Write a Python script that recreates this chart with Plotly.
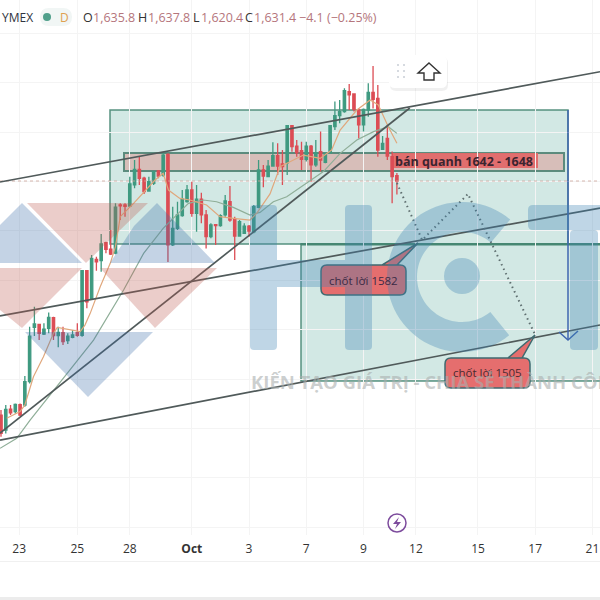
import math
import plotly.graph_objects as go

# Candle values (index 0 = leftmost visible candle)
opens = [1441.8,1429.7,1446.7,1444.6,1450.2,1450.0,1468.9,1512.9,1515.3,1507.5,1512.0,1520.7,1506.1,1508.5,1502.1,1504.8,1508.5,1506.4,1558.8,1536.3,1567.9,1566.9,1581.4,1576.3,1573.1,
         1612.0,1612.0,1611.1,1628.2,1640.8,1633.8,1623.3,1629.5,1639.5,1636.2,1653.0,1579.6,1593.0,1603.3,1614.7,1624.1,1605.2,1616.8,1603.9,1586.3,1596.0,1595.2,1603.9,1614.7,1600.3,1586.8,1589.0,1594.9,1590.3,1610.1,
         1640.3,1634.9,1643.5,1651.9,1645.2,1646.2,1676.2,1659.7,1656.0,1648.9,1659.7,1644.4,1655.2,1646.5,1654.3,1675.4,1684.3,1687.6,1703.8,1701.9,1688.9,1676.8,1688.9,1703.2,1698.4,1657.0,1666.0,1651.1,1635.8]
highs = [1445.9,1449.9,1449.9,1451.3,1451.3,1473.4,1513.4,1529.6,1515.6,1516.1,1525.0,1521.5,1513.4,1513.4,1508.0,1510.7,1516.1,1559.3,1559.3,1571.4,1570.1,1588.5,1582.2,1591.7,1613.3,
         1613.3,1613.3,1634.9,1648.4,1651.1,1634.9,1634.9,1639.0,1640.3,1653.8,1653.8,1610.6,1614.7,1624.1,1628.2,1630.8,1628.2,1621.9,1607.9,1597.1,1596.0,1604.4,1620.0,1627.3,1602.5,1599.8,1597.1,1595.8,1612.0,1648.4,
         1644.4,1648.4,1662.7,1661.9,1656.5,1676.8,1676.8,1664.6,1663.2,1663.2,1660.5,1664.6,1671.4,1653.8,1676.8,1695.7,1697.0,1706.5,1710.0,1702.4,1690.2,1690.2,1710.5,1724.5,1709.2,1667.8,1676.8,1655.2,1637.8]
lows = [1424.3,1427.0,1441.9,1443.2,1441.0,1448.6,1467.5,1505.8,1502.6,1506.7,1508.0,1502.6,1496.7,1498.5,1499.4,1504.0,1505.3,1505.3,1528.3,1535.0,1558.8,1557.9,1572.8,1571.5,1572.0,
        1599.8,1602.5,1611.1,1625.5,1628.2,1620.9,1622.8,1628.2,1633.6,1634.9,1565.8,1578.7,1591.7,1602.5,1613.8,1602.5,1590.3,1597.1,1576.8,1585.0,1579.6,1594.4,1602.5,1598.5,1567.4,1586.3,1588.5,1586.3,1589.0,1609.3,
        1626.3,1634.4,1643.0,1636.2,1628.2,1636.2,1655.1,1651.1,1640.3,1647.1,1630.8,1643.0,1639.0,1645.7,1653.8,1672.7,1678.1,1686.7,1688.9,1687.6,1665.9,1671.4,1683.5,1690.2,1651.1,1656.5,1648.4,1613.3,1620.4]
closes = [1427.0,1446.4,1443.7,1450.5,1441.9,1468.9,1505.8,1515.6,1508.0,1511.5,1521.0,1506.1,1508.8,1501.3,1505.8,1506.7,1506.4,1558.8,1533.6,1568.7,1566.0,1580.4,1576.0,1572.3,1610.3,
          1611.2,1610.9,1629.0,1640.8,1633.6,1622.8,1630.8,1639.0,1635.4,1652.4,1579.6,1593.0,1603.9,1616.8,1624.1,1605.2,1616.8,1603.9,1586.3,1595.8,1595.2,1603.3,1615.2,1599.8,1586.8,1598.5,1594.9,1590.9,1610.6,1640.3,
          1635.4,1643.5,1651.9,1643.5,1643.0,1676.2,1659.2,1654.3,1648.9,1659.7,1644.4,1654.3,1648.4,1653.8,1676.2,1684.3,1687.6,1704.6,1701.1,1689.4,1676.8,1689.4,1703.2,1697.5,1656.5,1661.9,1651.6,1634.9,1631.4]

fast_ma_k = [1.2,4,5,6.8,8.9,11,11.8,14.5,16.6,17.6,18.7,20.8,22.9,24,25,27.8,29.8,32.3,34,35.1,37.5,39.6,43.1,45.9,48.7,52.2,53.6,56.4,58.5,59.9,63.4,66.9,69.3,71.1,74.6,77.4,79.1,81.2,83]
fast_ma = [1439.2,1444.6,1450,1472.9,1489.1,1508,1512.9,1511.2,1509.4,1514.7,1524.2,1545.8,1564.7,1578.2,1602.5,1613.3,1621.4,1632.2,1637.6,1624.1,1617.3,1616,1612,1602.5,1601.2,1599.8,1605.2,1621,1643,1645.7,1652.4,1649.7,1656.5,1672.7,1688.9,1697,1693,1675.4,1661.9]
slow_ma_k = [-0.2,3.3,6.1,13.8,19.4,25.7,29.9,34,36.5,39.3,42.4,45.2,48.7,52.2,54.3,57.1,59.9,63.4,67.6,71.1,74.6,78.1,81.2,83]
slow_ma = [1414.9,1423,1437.8,1475.6,1502.6,1543.1,1572.8,1593,1602.5,1613.3,1616,1614.6,1610,1603.8,1606,1614.6,1618.7,1628.2,1639,1653.8,1664.6,1671.4,1675.4,1670]

# Drawn lines: candle index, price
trend_k = [[-0.21,125.58],[-0.21,125.58],[-0.21,85.7],[-0.21,125.58]]
trend_p = [[1630.6,1719.9],[1522.1,1609.5],[1427.3,1690.5],[1421.6,1514.8]]
path_k = [83,88.3,97.9,112]
path_p = [1629.8,1583.6,1620.9,1506.7]
last_price = 1631.4

tick_pos = [3.8,16,27,40,52,64,76,87,100,112,124]
tick_text = ["23","25","28","<b>Oct</b>","3","7","9","12","15","17","21"]
grid_prices = [1351,1391,1431,1471,1511,1551,1591,1631,1671,1711,1751]

PLOT_H = 535
X = lambda px: px / 600
Y = lambda py: 1 - py / PLOT_H

def poly(pts, close=True):
    s = "M" + " L".join(f"{X(a):.5f},{Y(b):.5f}" for a, b in pts)
    return s + (" Z" if close else "")

def rrect(x0, y0, x1, y1, r, pointer=None):
    q = lambda cx, cy, x, y: f" Q{X(cx):.5f},{Y(cy):.5f} {X(x):.5f},{Y(y):.5f}"
    l = lambda x, y: f" L{X(x):.5f},{Y(y):.5f}"
    s = f"M{X(x0+r):.5f},{Y(y0):.5f}"
    if pointer and pointer[0] == "top":
        s += l(pointer[1], y0) + l(pointer[3], pointer[4]) + l(pointer[2], y0)
    s += l(x1-r, y0) + q(x1, y0, x1, y0+r) + l(x1, y1-r) + q(x1, y1, x1-r, y1)
    s += l(x0+r, y1) + q(x0, y1, x0, y1-r) + l(x0, y0+r) + q(x0, y0, x0+r, y0) + " Z"
    return s

shapes = []
def add(path=None, fill="rgba(0,0,0,0)", line="rgba(0,0,0,0)", w=0, layer="above"):
    shapes.append(dict(type="path", path=path, xref="paper", yref="paper", fillcolor=fill,
                       line=dict(color=line, width=w), layer=layer))
def rect(x0, y0, x1, y1, fill, line, w, layer="below"):
    shapes.append(dict(type="rect", xref="paper", yref="paper", x0=X(x0), x1=X(x1), y0=Y(y0), y1=Y(y1),
                       fillcolor=fill, line=dict(color=line, width=w), layer=layer))
def circ(cx, cy, r, fill, line="rgba(0,0,0,0)", w=0, layer="above"):
    shapes.append(dict(type="circle", xref="paper", yref="paper", x0=X(cx-r), x1=X(cx+r), y0=Y(cy-r), y1=Y(cy+r),
                       fillcolor=fill, line=dict(color=line, width=w), layer=layer))

TEAL = "rgba(30,140,120,0.2)"
BORDER = "rgba(70,135,115,0.9)"
rect(110, 110, 568, 244, TEAL, BORDER, 1.5)
rect(301, 244, 640, 381, TEAL, BORDER, 1.5)
rect(301, 243.5, 640, 245, "rgb(70,135,115)", "rgb(70,135,115)", 1)
rect(124, 153, 564, 171, "rgba(222,127,120,0.4)", "rgba(85,135,120,0.95)", 2)
rect(392, 153, 538, 168, "rgba(226,105,105,0.95)", "rgba(0,0,0,0)", 0)

# blue arrow
add(poly([(568, 110), (568, 340)], False), line="#3f66b0", w=1.5)
add(poly([(559, 332), (568, 340), (578, 331)], False), line="#3f66b0", w=1.5)

# callouts
CALL = "#e56e6e"
add(rrect(321, 265, 406, 295, 6, ("top", 397, 382, 418, 243)), fill=CALL, line="#3f6a70", w=1.5)
add(rrect(445, 358, 530, 388, 6, ("top", 522, 508, 535, 335)), fill=CALL, line="#3f6a70", w=1.5)

# watermark
WB = "rgba(60,110,170,0.3)"
WR = "rgba(190,90,80,0.3)"
for pts, col in [
    ([(22, 203), (82, 263), (0, 263), (0, 225)], WB),
    ([(27, 203), (148, 203), (86, 263)], WR),
    ([(157, 203), (215, 263), (110, 263), (134, 226)], WB),
    ([(0, 268), (82, 268), (22, 328), (0, 310)], WR),
    ([(100, 268), (217, 268), (155, 328)], WR),
    ([(25, 332), (153, 332), (88, 397)], WB),
]:
    add(poly(pts), fill=col)
WH = "rgba(60,130,180,0.33)"
add(rrect(250, 205, 277, 350, 4), fill=WH)
add(poly([(277, 260), (345, 260), (345, 287), (277, 287)]), fill=WH)
add(rrect(345, 205, 372, 350, 4), fill=WH)
cx, cy, ro, ri = 462, 277, 75, 45
angs = [50 + i * 259 / 60 for i in range(61)]
outer = [(cx + ro * math.cos(math.radians(a)), cy - ro * math.sin(math.radians(a))) for a in angs]
inner = [(cx + ri * math.cos(math.radians(a)), cy - ri * math.sin(math.radians(a))) for a in reversed(angs)]
add(poly(outer + inner), fill=WH)
circ(cx, 276, 18, WH)
add(rrect(528, 205, 640, 230, 5), fill=WH)
add(rrect(570, 230, 598, 350, 4), fill=WH)

# header pill
add(rrect(40, 8, 72, 26, 9), fill="#f1f6f5")
circ(47, 17, 4, "#4f9f8a")

# toolbar
add(rrect(390, 57, 448, 91, 6), fill="rgba(0,0,0,0.06)")
add(rrect(389, 55, 447, 88, 6), fill="#ffffff")
for gx in (398, 404):
    for gy in (65, 71, 77):
        circ(gx, gy, 1, "#c9ced6")
add(poly([(429, 63), (440, 73), (434, 73), (434, 80), (424, 80), (424, 73), (418, 73)]), fill="#fff", line="#333", w=1.4)

# lightning icon
circ(397, 523, 9, "#ffffff", "#7d4c9d", 1.5)
add(poly([(399, 517), (393, 524), (397, 524), (395, 529), (401, 522), (397, 522)]), fill="#7d4c9d")

# bottom chrome
rect(0, 561, 600, 562, "#f0f0f0", "rgba(0,0,0,0)", 0)
rect(0, 597, 600, 600, "#ececec", "rgba(0,0,0,0)", 0)

fig = go.Figure()
fig.add_trace(go.Scatter(x=[-0.21, 125.58], y=[last_price, last_price], mode="lines",
                         line=dict(color="rgba(205,165,155,0.8)", width=1, dash="dot"), hoverinfo="skip"))
fig.add_trace(go.Scatter(x=slow_ma_k, y=slow_ma, mode="lines", line=dict(color="#8fae98", width=1.2), hoverinfo="skip"))
fig.add_trace(go.Candlestick(x=list(range(len(opens))), open=opens, high=highs, low=lows, close=closes,
                             increasing=dict(line=dict(color="#3f9a80", width=1.3), fillcolor="#3f9a80"),
                             decreasing=dict(line=dict(color="#dc4d55", width=1.3), fillcolor="#dc4d55")))
fig.add_trace(go.Scatter(x=fast_ma_k, y=fast_ma, mode="lines", line=dict(color="#e0a77c", width=1.2), hoverinfo="skip"))
for k, p in zip(trend_k, trend_p):
    fig.add_trace(go.Scatter(x=k, y=p, mode="lines", line=dict(color="#505a5a", width=1.7), hoverinfo="skip"))
fig.add_trace(go.Scatter(x=path_k, y=path_p, mode="lines", line=dict(color="#5f6f70", width=2, dash="1.5px,3.5px"), hoverinfo="skip"))

ann = []
def txt(x, y, s, size=12, color="#333", anchor="left", family="Open Sans"):
    ann.append(dict(xref="paper", yref="paper", x=X(x), y=Y(y), text=s, showarrow=False, xanchor=anchor, yanchor="middle",
                    font=dict(size=size, color=color, family=family), align=anchor))

RV = "#b5767c"
txt(0, 17, "YMEX", 12, "#2f3340", "left")
txt(64, 17, "D", 12, "#e0a050", "center")
txt(81, 17, "O", 12.5, "#333")
txt(91, 17, "1,635.8", 12.5, RV)
txt(136, 17, "H", 12.5, "#333")
txt(146, 17, "1,637.8", 12.5, RV)
txt(191, 17, "L", 12.5, "#333")
txt(199, 17, "1,620.4", 12.5, RV)
txt(243, 17, "C", 12.5, "#333")
txt(252, 17, "1,631.4", 12.5, RV)
txt(297, 17, "−4.1 (−0.25%)", 12.5, RV)
txt(393, 161, "<b>bán quanh 1642 - 1648</b>", 12.5, "#3b2530")
txt(363.5, 280, "chốt lời 1582", 11.5, "#3a2a45", "center")
txt(487.5, 372, "chốt lời 1505", 11.5, "#4a2a30", "center")
txt(249, 381, "<b>KIẾN TẠO GIÁ TRỊ - CHIA SẺ THÀNH CÔNG</b>", 18.5, "rgba(170,175,175,0.6)")

fig.update_layout(
    width=600, height=600, margin=dict(l=0, r=0, t=0, b=65), autosize=False,
    paper_bgcolor="#ffffff", plot_bgcolor="#ffffff", showlegend=False,
    shapes=shapes, annotations=ann,
    xaxis=dict(range=[-0.21, 125.58], tickmode="array", tickvals=tick_pos, ticktext=tick_text,
               showgrid=True, gridcolor="#f4f4f4", zeroline=False, showline=False, ticks="",
               rangeslider=dict(visible=False), tickfont=dict(family="Open Sans", size=12, color="#333"),
               ticklabelstandoff=5),
    yaxis=dict(range=[1344.7, 1778.0], tickmode="array", tickvals=grid_prices, showticklabels=False,
               showgrid=True, gridcolor="#f4f4f4", zeroline=False, showline=False, ticks=""),
)
fig.write_html("out.html", config=dict(displayModeBar=False),
               post_script="document.body.style.margin='0';document.documentElement.style.overflow='hidden';")
